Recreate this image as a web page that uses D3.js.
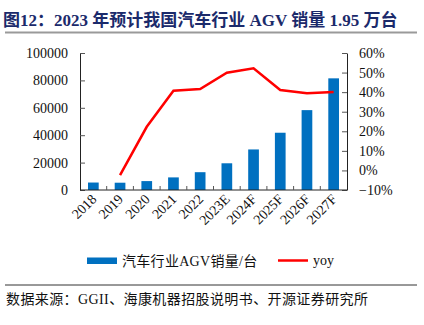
<!DOCTYPE html>
<html><head><meta charset="utf-8">
<script src="https://cdn.jsdelivr.net/npm/d3@7"></script>
<style>
body{margin:0;background:#fff;}
svg{display:block;}
text{font-family:"Liberation Serif","Times New Roman","Noto Sans CJK SC",serif;}
</style></head>
<body>
<svg id="c" width="424" height="325"></svg>
<script>
const categories = ["2018","2019","2020","2021","2022","2023E","2024F","2025F","2026F","2027F"];
const sales = [5450, 5320, 6500, 9200, 13000, 19500, 29600, 41800, 58300, 81500];
const yoy = [null, -0.024, 0.223, 0.407, 0.416, 0.499, 0.522, 0.411, 0.394, 0.401];
const leftTicks = [0, 20000, 40000, 60000, 80000, 100000];
const rightTicks = [-0.1, 0, 0.1, 0.2, 0.3, 0.4, 0.5, 0.6];

const svg = d3.select("#c");
const L = 80, R = 347, T = 53, B = 190;

// Title
svg.append("text").attr("x", 3).attr("y", 26)
  .attr("font-size", 17).attr("font-weight", "bold").attr("fill", "#1b2a6b")
  .text("图12：2023 年预计我国汽车行业 AGV 销量 1.95 万台");
svg.append("line").attr("x1", 5).attr("x2", 417).attr("y1", 32.5).attr("y2", 32.5)
  .attr("stroke", "#9a9a9a").attr("stroke-width", 2);

const xb = d3.scaleBand().domain(categories).range([L, R]);
const yL = d3.scaleLinear().domain([0, 100000]).range([B, T]);
const yR = d3.scaleLinear().domain([-0.1, 0.6]).range([B, T]);

// Bars
svg.append("g").selectAll("rect").data(categories).join("rect")
  .attr("x", (d) => xb(d) + xb.bandwidth()/2 - 5.35)
  .attr("width", 10.7)
  .attr("y", (d, i) => yL(sales[i]))
  .attr("height", (d, i) => B - yL(sales[i]))
  .attr("fill", "#0070c0");

// Left axis
const gl = svg.append("g").attr("transform", `translate(${L},0)`)
  .call(d3.axisLeft(yL).tickValues(leftTicks).tickFormat(d3.format("d")).tickSizeInner(-5).tickSizeOuter(0).tickPadding(12));
// Right axis
const gr = svg.append("g").attr("transform", `translate(${R},0)`)
  .call(d3.axisRight(yR).tickValues(rightTicks).tickFormat(d3.format(".0%")).tickSizeInner(-5).tickSizeOuter(0).tickPadding(12));
[gl, gr].forEach(g => {
  g.select(".domain").attr("stroke", "#222");
  g.selectAll(".tick line").attr("stroke", "#555");
  g.selectAll("text").attr("font-size", 14).attr("fill", "#111")
    .style("font-family", '"Liberation Serif","Times New Roman",serif');
});

// Bottom axis
svg.append("line").attr("x1", L).attr("x2", R).attr("y1", B).attr("y2", B).attr("stroke", "#222");
svg.append("g").selectAll("line").data(categories.slice(1)).join("line")
  .attr("x1", d => xb(d)).attr("x2", d => xb(d)).attr("y1", B).attr("y2", B - 4)
  .attr("stroke", "#555");
svg.append("g").selectAll("text").data(categories).join("text")
  .attr("transform", d => `translate(${xb(d) + xb.bandwidth()/2 + 4},${B + 10}) rotate(-45)`)
  .attr("text-anchor", "end").attr("font-size", 14).attr("fill", "#111")
  .text(d => d);

// yoy line
const pts = categories.map((c, i) => [c, yoy[i]]).filter(p => p[1] !== null);
svg.append("path").datum(pts)
  .attr("d", d3.line().x(p => xb(p[0]) + xb.bandwidth()/2).y(p => yR(p[1])))
  .attr("fill", "none").attr("stroke", "#ff0000").attr("stroke-width", 2.5);

// Legend
svg.append("rect").attr("x", 87).attr("y", 257.5).attr("width", 30).attr("height", 6.5).attr("fill", "#0070c0");
svg.append("text").attr("x", 122).attr("y", 266).attr("font-size", 14).attr("fill", "#111")
  .attr("letter-spacing", 0.3).text("汽车行业AGV销量/台");
svg.append("line").attr("x1", 278).attr("x2", 308).attr("y1", 260.5).attr("y2", 260.5).attr("stroke", "#ff0000").attr("stroke-width", 2.5);
svg.append("text").attr("x", 313).attr("y", 265).attr("font-size", 14).attr("fill", "#111").text("yoy");

// Source
svg.append("line").attr("x1", 5).attr("x2", 417).attr("y1", 285).attr("y2", 285).attr("stroke", "#333").attr("stroke-width", 1);
svg.append("text").attr("x", 6).attr("y", 304).attr("font-size", 14).attr("fill", "#111")
  .attr("letter-spacing", 0.4)
  .text("数据来源：GGII、海康机器招股说明书、开源证券研究所");
</script>
</body></html>
